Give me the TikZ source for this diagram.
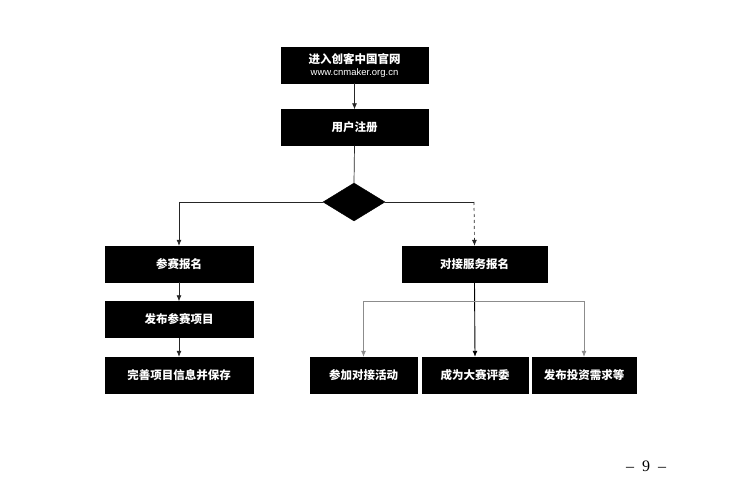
\documentclass[tikz,border=0pt]{standalone}
\usepackage{fontspec}
\setmainfont{Liberation Serif}
\newfontfamily\cjk{Noto Sans CJK SC}
\newfontfamily\latinsans{Liberation Sans}
\usetikzlibrary{shapes.geometric,arrows.meta}
\begin{document}
\begin{tikzpicture}[x=1pt,y=-1pt,
  blackbox/.style={draw=black,fill=black,text=white,inner sep=0pt,
    minimum height=36pt,font=\cjk\bfseries\fontsize{11.5}{13}\selectfont,align=center},
  conn/.style={draw=black!85,line width=0.7pt,-{Latex[length=6pt,width=5pt]}},
  greyconn/.style={draw=black!45,line width=0.7pt,-{Latex[length=6pt,width=5pt]}}]
\useasboundingbox (0,0) rectangle (736,489);
\fill[white] (0,0) rectangle (736,489);
\node[blackbox,minimum width=147pt] (web) at (354.5,65) {进入创客中国官网\\[-1pt]{\latinsans\mdseries\fontsize{9.5}{11}\selectfont www.cnmaker.org.cn}};
\node[blackbox,minimum width=147pt] (reg) at (354.5,127.5) {用户注册};
\node[diamond,fill=black,draw=black,inner sep=0pt,minimum width=62pt,minimum height=38pt] (dec) at (354,202) {};
\node[blackbox,minimum width=148pt] (join) at (179,264) {参赛报名};
\node[blackbox,minimum width=148pt] (pub) at (179,319.5) {发布参赛项目};
\node[blackbox,minimum width=148pt] (save) at (179,375) {完善项目信息并保存};
\node[blackbox,minimum width=145pt] (svc) at (474.5,264) {对接服务报名};
\node[blackbox,minimum width=107pt] (act) at (363.5,375) {参加对接活动};
\node[blackbox,minimum width=106pt] (judge) at (475,375) {成为大赛评委};
\node[blackbox,minimum width=104pt] (inv) at (584,375) {发布投资需求等};
\node[font=\fontsize{16}{18}\selectfont] (page) at (646,466) {–\enspace 9\enspace –};
\coordinate (hl) at (179,202);
\coordinate (hr) at (474,202);
\coordinate (bl) at (363.5,301);
\coordinate (br) at (584,301);
\draw[conn] (web.south) -- (reg.north);
\draw[draw=black!85,line width=0.7pt] (reg.south) -- (dec.north);
\draw[draw=black!85,line width=0.7pt] (dec.west) -- (hl);
\draw[conn] (hl) -- (join.north);
\draw[draw=black!85,line width=0.7pt] (dec.east) -- (hr);
\draw[conn,dashed] (hr) -- (svc.north);
\draw[conn] (join.south) -- (pub.north);
\draw[conn] (pub.south) -- (save.north);
\draw[conn,line width=0.9pt,draw=black] (svc.south) -- (judge.north);
\draw[draw=black!45,line width=0.7pt] (bl) -- (br);
\draw[greyconn] (bl) -- (act.north);
\draw[greyconn] (br) -- (inv.north);
\end{tikzpicture}
\end{document}
